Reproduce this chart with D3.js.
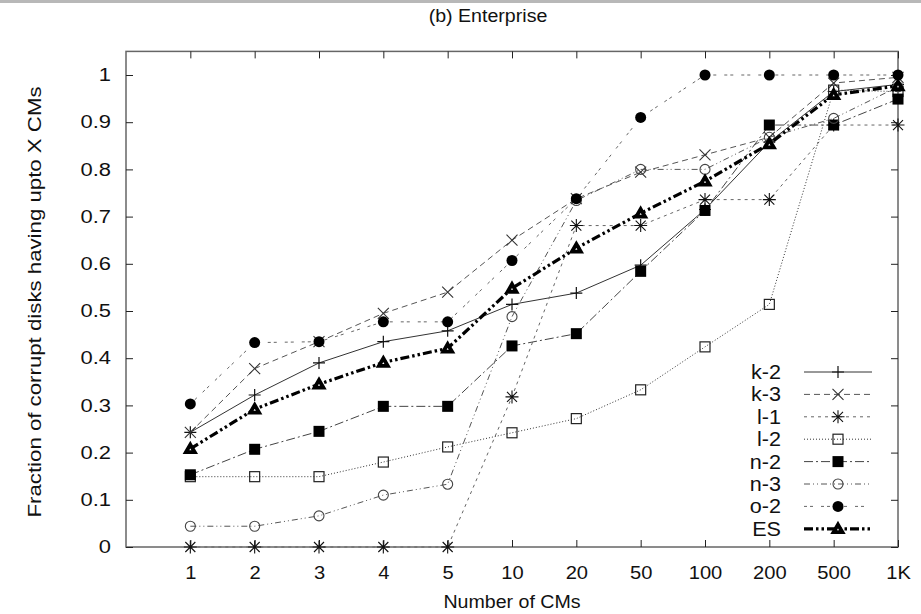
<!DOCTYPE html>
<html>
<head>
<meta charset="utf-8">
<script src="https://cdn.jsdelivr.net/npm/d3@7"></script>
<style>
  html, body { margin: 0; padding: 0; background: #fff; }
  svg text { font-family: "Liberation Sans", Arial, Helvetica, sans-serif; fill: #111; }
</style>
</head>
<body>
<svg id="chart" width="921" height="614"></svg>
<script>
// Number of CMs (x categories)
const categories = ["1", "2", "3", "4", "5", "10", "20", "50", "100", "200", "500", "1K"];
const yTicks = [0, 0.1, 0.2, 0.3, 0.4, 0.5, 0.6, 0.7, 0.8, 0.9, 1];

// Fraction of corrupt disks having up to X CMs, per disk model
const k2 = [0.243, 0.322, 0.390, 0.435, 0.458, 0.514, 0.538, 0.597, 0.715, 0.858, 0.965, 0.980];
const k3 = [0.243, 0.378, 0.435, 0.495, 0.540, 0.650, 0.738, 0.794, 0.831, 0.868, 0.983, 0.995];
const l1 = [0, 0, 0, 0, 0, 0.318, 0.681, 0.681, 0.736, 0.736, 0.894, 0.894];
const l2 = [0.149, 0.149, 0.149, 0.180, 0.212, 0.242, 0.272, 0.333, 0.424, 0.514, 0.968, 0.965];
const n2 = [0.153, 0.207, 0.245, 0.298, 0.298, 0.426, 0.452, 0.584, 0.713, 0.894, 0.894, 0.949];
const n3 = [0.044, 0.044, 0.066, 0.110, 0.133, 0.488, 0.734, 0.800, 0.800, 0.868, 0.908, 0.975];
const o2 = [0.303, 0.433, 0.435, 0.477, 0.477, 0.607, 0.738, 0.910, 1.0, 1.0, 1.0, 1.0];
const es = [0.208, 0.292, 0.345, 0.391, 0.421, 0.548, 0.633, 0.707, 0.775, 0.854, 0.958, 0.977];

const seriesNames = ["k-2", "k-3", "l-1", "l-2", "n-2", "n-3", "o-2", "ES"];

const series = [
  { name: seriesNames[0], values: k2, marker: "plus",     dash: null,              width: 1,   stroke: "#333" },
  { name: seriesNames[1], values: k3, marker: "cross",    dash: "6,4",             width: 1,   stroke: "#555" },
  { name: seriesNames[2], values: l1, marker: "star",     dash: "3,4",             width: 1,   stroke: "#666" },
  { name: seriesNames[3], values: l2, marker: "square",   dash: "1,2",             width: 1,   stroke: "#333" },
  { name: seriesNames[4], values: n2, marker: "fsquare",  dash: "9,3,2,3",         width: 1,   stroke: "#444" },
  { name: seriesNames[5], values: n3, marker: "circle",   dash: "6,3,1,3,1,3",     width: 1,   stroke: "#555" },
  { name: seriesNames[6], values: o2, marker: "fcircle",  dash: "3,3,3,8",         width: 1,   stroke: "#666" },
  { name: seriesNames[7], values: es, marker: "triangle", dash: "9,3,2.5,3,2.5,3", width: 3.2, stroke: "#000" }
];

const svg = d3.select("#chart");
const W = 921;
const plotLeft = 126, plotRight = 898, plotTop = 52, plotBottom = 547;

// widen text along its baseline
function stretch(sel, factor) {
  sel.each(function () {
    const len = this.getComputedTextLength();
    this.setAttribute("textLength", (len * factor).toFixed(1));
    this.setAttribute("lengthAdjust", "spacingAndGlyphs");
  });
}

// x: category index 1..12, with the frame spanning 0..12
const x = d3.scaleLinear().domain([0, categories.length]).range([plotLeft, plotRight]);
const y = d3.scaleLinear().domain([0, 1.05]).range([plotBottom, plotBottom - 472 * 1.05]);

// faint rule across the top of the figure
svg.append("line").attr("x1", 0).attr("x2", W).attr("y1", 1.5).attr("y2", 1.5)
  .attr("stroke", "#b8b8b8").attr("stroke-width", 3);

// title
svg.append("text").attr("x", 488).attr("y", 22).attr("text-anchor", "middle")
  .style("font-size", "17.5px").text("(b) Enterprise").call(stretch, 1.12);

// frame
svg.append("rect").attr("x", plotLeft).attr("y", y(1.05)).attr("width", plotRight - plotLeft)
  .attr("height", plotBottom - y(1.05)).attr("fill", "none").attr("stroke", "#666").attr("stroke-width", 1.5);

const idx = d3.range(1, categories.length + 1);
const tickLen = 7;

// bottom axis with labels
const xAxis = d3.axisBottom(x).tickValues(idx).tickFormat(i => categories[i - 1])
  .tickSizeInner(-tickLen).tickSizeOuter(0).tickPadding(20);
const gx = svg.append("g").attr("transform", `translate(0,${plotBottom})`).call(xAxis);
gx.select(".domain").remove();
gx.selectAll("text").style("font-size", "17.5px").attr("fill", "#111").call(stretch, 1.15);
gx.selectAll("line").attr("stroke", "#222");

// top mirror ticks
const gxt = svg.append("g").attr("transform", `translate(0,${y(1.05)})`)
  .call(d3.axisTop(x).tickValues(idx).tickFormat("").tickSizeInner(-tickLen).tickSizeOuter(0));
gxt.select(".domain").remove();
gxt.selectAll("line").attr("stroke", "#222");

// left axis with labels
const yAxis = d3.axisLeft(y).tickValues(yTicks).tickFormat(d3.format("~g"))
  .tickSizeInner(-tickLen).tickSizeOuter(0).tickPadding(15);
const gy = svg.append("g").attr("transform", `translate(${plotLeft},0)`).call(yAxis);
gy.select(".domain").remove();
gy.selectAll("text").style("font-size", "18px").attr("fill", "#111").call(stretch, 1.22);
gy.selectAll("line").attr("stroke", "#222");

// right mirror ticks
const gyr = svg.append("g").attr("transform", `translate(${plotRight},0)`)
  .call(d3.axisRight(y).tickValues(yTicks).tickFormat("").tickSizeInner(-tickLen).tickSizeOuter(0));
gyr.select(".domain").remove();
gyr.selectAll("line").attr("stroke", "#222");

// axis titles
svg.append("text").attr("x", 512).attr("y", 608).attr("text-anchor", "middle")
  .style("font-size", "17.5px").text("Number of CMs").call(stretch, 1.12);
svg.append("text").attr("transform", `translate(41,302) rotate(-90)`)
  .attr("text-anchor", "middle").style("font-size", "17.5px")
  .text("Fraction of corrupt disks having upto X CMs").call(stretch, 1.27);

// marker drawing
function drawMarker(g, type, cx, cy) {
  const m = g.append("g").attr("transform", `translate(${cx},${cy})`);
  switch (type) {
    case "plus":
      m.append("path").attr("d", "M-6,0H6M0,-6V6").attr("stroke", "#111").attr("stroke-width", 1.2).attr("fill", "none");
      break;
    case "cross":
      m.append("path").attr("d", "M-5.5,-5.5L5.5,5.5M-5.5,5.5L5.5,-5.5").attr("stroke", "#333").attr("stroke-width", 1.1).attr("fill", "none");
      break;
    case "star":
      m.append("path").attr("d", "M-6.5,0H6.5M0,-6.5V6.5M-5,-5L5,5M-5,5L5,-5").attr("stroke", "#111").attr("stroke-width", 1.1).attr("fill", "none");
      break;
    case "square":
      m.append("rect").attr("x", -5).attr("y", -5).attr("width", 10).attr("height", 10)
        .attr("fill", "none").attr("stroke", "#222").attr("stroke-width", 1.2);
      break;
    case "fsquare":
      m.append("rect").attr("x", -5.5).attr("y", -5.5).attr("width", 11).attr("height", 11).attr("fill", "#000");
      break;
    case "circle":
      m.append("circle").attr("r", 5).attr("fill", "none").attr("stroke", "#444").attr("stroke-width", 1.1);
      break;
    case "fcircle":
      m.append("circle").attr("r", 5.5).attr("fill", "#000");
      break;
    case "triangle":
      m.append("path").attr("d", "M0,-4.2L4.4,3.4H-4.4Z").attr("fill", "#fff").attr("stroke", "#000")
        .attr("stroke-width", 3.8).attr("stroke-linejoin", "miter");
      break;
  }
}

const line = d3.line().x((d, i) => x(i + 1)).y(d => y(d));

const plot = svg.append("g");
series.forEach(s => {
  const g = plot.append("g");
  g.append("path").datum(s.values).attr("d", line)
    .attr("fill", "none").attr("stroke", s.stroke).attr("stroke-width", s.width)
    .attr("stroke-dasharray", s.dash);
  s.values.forEach((v, i) => drawMarker(g, s.marker, x(i + 1), y(v)));
});

// legend
const legY0 = 372, legStep = 22.4;
const legend = svg.append("g");
series.forEach((s, i) => {
  const ly = legY0 + i * legStep;
  legend.append("text").attr("x", 781).attr("y", ly + 7).attr("text-anchor", "end")
    .style("font-size", "20px").text(s.name).call(stretch, 1.08);
  legend.append("line").attr("x1", 804).attr("x2", 872).attr("y1", ly).attr("y2", ly)
    .attr("stroke", s.stroke).attr("stroke-width", s.width).attr("stroke-dasharray", s.dash);
  drawMarker(legend, s.marker, 838, ly);
});
</script>
</body>
</html>
